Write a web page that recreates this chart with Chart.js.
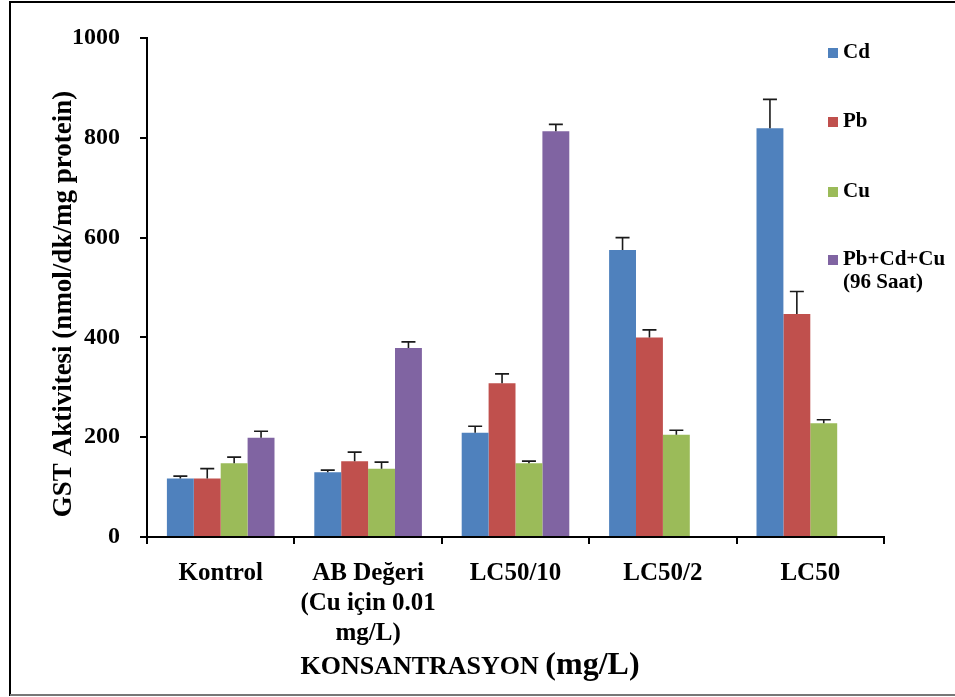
<!DOCTYPE html>
<html>
<head>
<meta charset="utf-8">
<script src="https://cdn.jsdelivr.net/npm/chart.js@4"></script>
<style>
  html, body { margin: 0; padding: 0; background: #fff; }
  #wrap { width: 955px; height: 697px; }
</style>
</head>
<body>
<div id="wrap"><canvas id="gstChart" width="955" height="697"></canvas></div>
<script>
// data
const categories = ['Kontrol', ['AB Değeri', '(Cu için 0.01', 'mg/L)'], 'LC50/10', 'LC50/2', 'LC50'];
const seriesNames = ['Cd', 'Pb', 'Cu', ['Pb+Cd+Cu', '(96 Saat)']];
const cdValues = [117, 130, 209, 575, 819];
const cdErrors = [5, 4, 13, 25, 58];
const pbValues = [117, 152, 308, 400, 447];
const pbErrors = [20, 18, 19, 15, 45];
const cuValues = [148, 137, 148, 205, 228];
const cuErrors = [12, 13, 4, 9, 7];
const mixValues = [199, 379, 813, null, null];
const mixErrors = [13, 12, 14, null, null];
const yTicks = [0, 200, 400, 600, 800, 1000];

const colors = ['#4F81BD', '#C0504D', '#9BBB59', '#8064A2'];
const FONT = '"Liberation Serif", "Times New Roman", serif';

function makeSet(label, data, errs, color) {
  return {
    label: Array.isArray(label) ? label.join(' ') : label,
    legendLines: Array.isArray(label) ? label : [label],
    data: data,
    errors: errs,
    backgroundColor: color,
    borderWidth: 0,
    categoryPercentage: 0.73,
    barPercentage: 1.0
  };
}

// up-only error bars with caps
const errorBars = {
  id: 'errorBars',
  afterDatasetsDraw(chart) {
    const ctx = chart.ctx;
    const yScale = chart.scales.y;
    ctx.save();
    ctx.strokeStyle = '#1a1a1a';
    ctx.lineWidth = 1.6;
    chart.data.datasets.forEach((ds, i) => {
      const meta = chart.getDatasetMeta(i);
      meta.data.forEach((bar, j) => {
        const v = ds.data[j];
        const e = ds.errors[j];
        if (v == null || e == null) return;
        const x = bar.x;
        const y0 = yScale.getPixelForValue(v);
        const y1 = yScale.getPixelForValue(v + e);
        ctx.beginPath();
        ctx.moveTo(x, y0);
        ctx.lineTo(x, y1);
        ctx.moveTo(x - 7, y1);
        ctx.lineTo(x + 7, y1);
        ctx.stroke();
      });
    });
    ctx.restore();
  }
};

// frame, legend, and both axis titles
const decorations = {
  id: 'decorations',
  beforeDraw(chart) {
    const ctx = chart.ctx;
    ctx.save();
    ctx.fillStyle = '#fff';
    ctx.fillRect(0, 0, chart.width, chart.height);
    ctx.strokeStyle = '#000';
    ctx.lineWidth = 2;
    ctx.beginPath();
    ctx.moveTo(10, 696);
    ctx.lineTo(10, 2);
    ctx.lineTo(955, 2);
    ctx.stroke();
    ctx.strokeStyle = '#777';
    ctx.beginPath();
    ctx.moveTo(10, 695);
    ctx.lineTo(955, 695);
    ctx.stroke();
    ctx.restore();
  },
  afterDraw(chart) {
    const ctx = chart.ctx;
    const area = chart.chartArea;
    ctx.save();
    // legend, sitting inside the right end of the plot
    const rowY = [53, 122, 192, 260];
    ctx.font = 'bold 21px ' + FONT;
    ctx.textBaseline = 'middle';
    chart.data.datasets.forEach((ds, i) => {
      const y = rowY[i];
      ctx.fillStyle = ds.backgroundColor;
      ctx.fillRect(area.right - 56, y - 5, 10, 10);
      ctx.fillStyle = '#000';
      ds.legendLines.forEach((line, k) => {
        ctx.fillText(line, area.right - 41, y + k * 23);
      });
    });
    // y axis title
    ctx.save();
    ctx.translate(64, 304);
    ctx.rotate(-Math.PI / 2);
    ctx.font = 'bold 27px ' + FONT;
    ctx.textAlign = 'center';
    ctx.textBaseline = 'middle';
    ctx.fillText('GST Aktivitesi (nmol/dk/mg protein)', 0, 0);
    ctx.restore();
    // x axis title, the unit set larger
    const part1 = 'KONSANTRASYON ';
    const part2 = '(mg/L)';
    ctx.font = 'bold 26px ' + FONT;
    const w1 = ctx.measureText(part1).width;
    ctx.font = 'bold 32px ' + FONT;
    const w2 = ctx.measureText(part2).width;
    const left = 470 - (w1 + w2) / 2;
    ctx.textBaseline = 'alphabetic';
    ctx.textAlign = 'left';
    ctx.font = 'bold 26px ' + FONT;
    ctx.fillText(part1, left, 674);
    ctx.font = 'bold 32px ' + FONT;
    ctx.fillText(part2, left + w1, 674);
    ctx.restore();
  }
};

new Chart(document.getElementById('gstChart'), {
  type: 'bar',
  data: {
    labels: categories,
    datasets: [
      makeSet(seriesNames[0], cdValues, cdErrors, colors[0]),
      makeSet(seriesNames[1], pbValues, pbErrors, colors[1]),
      makeSet(seriesNames[2], cuValues, cuErrors, colors[2]),
      makeSet(seriesNames[3], mixValues, mixErrors, colors[3])
    ]
  },
  options: {
    responsive: false,
    animation: false,
    devicePixelRatio: 1,
    layout: { padding: { top: 38, right: 71, left: 0, bottom: 0 } },
    plugins: {
      legend: { display: false },
      tooltip: { enabled: false }
    },
    scales: {
      x: {
        border: { color: '#000', width: 2 },
        grid: { drawOnChartArea: false, drawTicks: true, tickLength: 7, color: '#000', lineWidth: 2, offset: true },
        ticks: {
          color: '#000',
          padding: 15,
          maxRotation: 0,
          autoSkip: false,
          font: { family: FONT, size: 25, weight: 'bold', lineHeight: 1.2 }
        },
        afterFit(scale) { scale.height = 160; }
      },
      y: {
        min: 0,
        max: 1000,
        border: { color: '#000', width: 2 },
        grid: { drawOnChartArea: false, drawTicks: true, tickLength: 7, color: '#000', lineWidth: 2 },
        afterBuildTicks(scale) { scale.ticks = yTicks.map(v => ({ value: v })); },
        ticks: {
          color: '#000',
          padding: 20,
          font: { family: FONT, size: 24, weight: 'bold' },
          callback: (v) => String(v)
        },
        afterFit(scale) { scale.width = 147; }
      }
    }
  },
  plugins: [errorBars, decorations]
});
</script>
</body>
</html>
